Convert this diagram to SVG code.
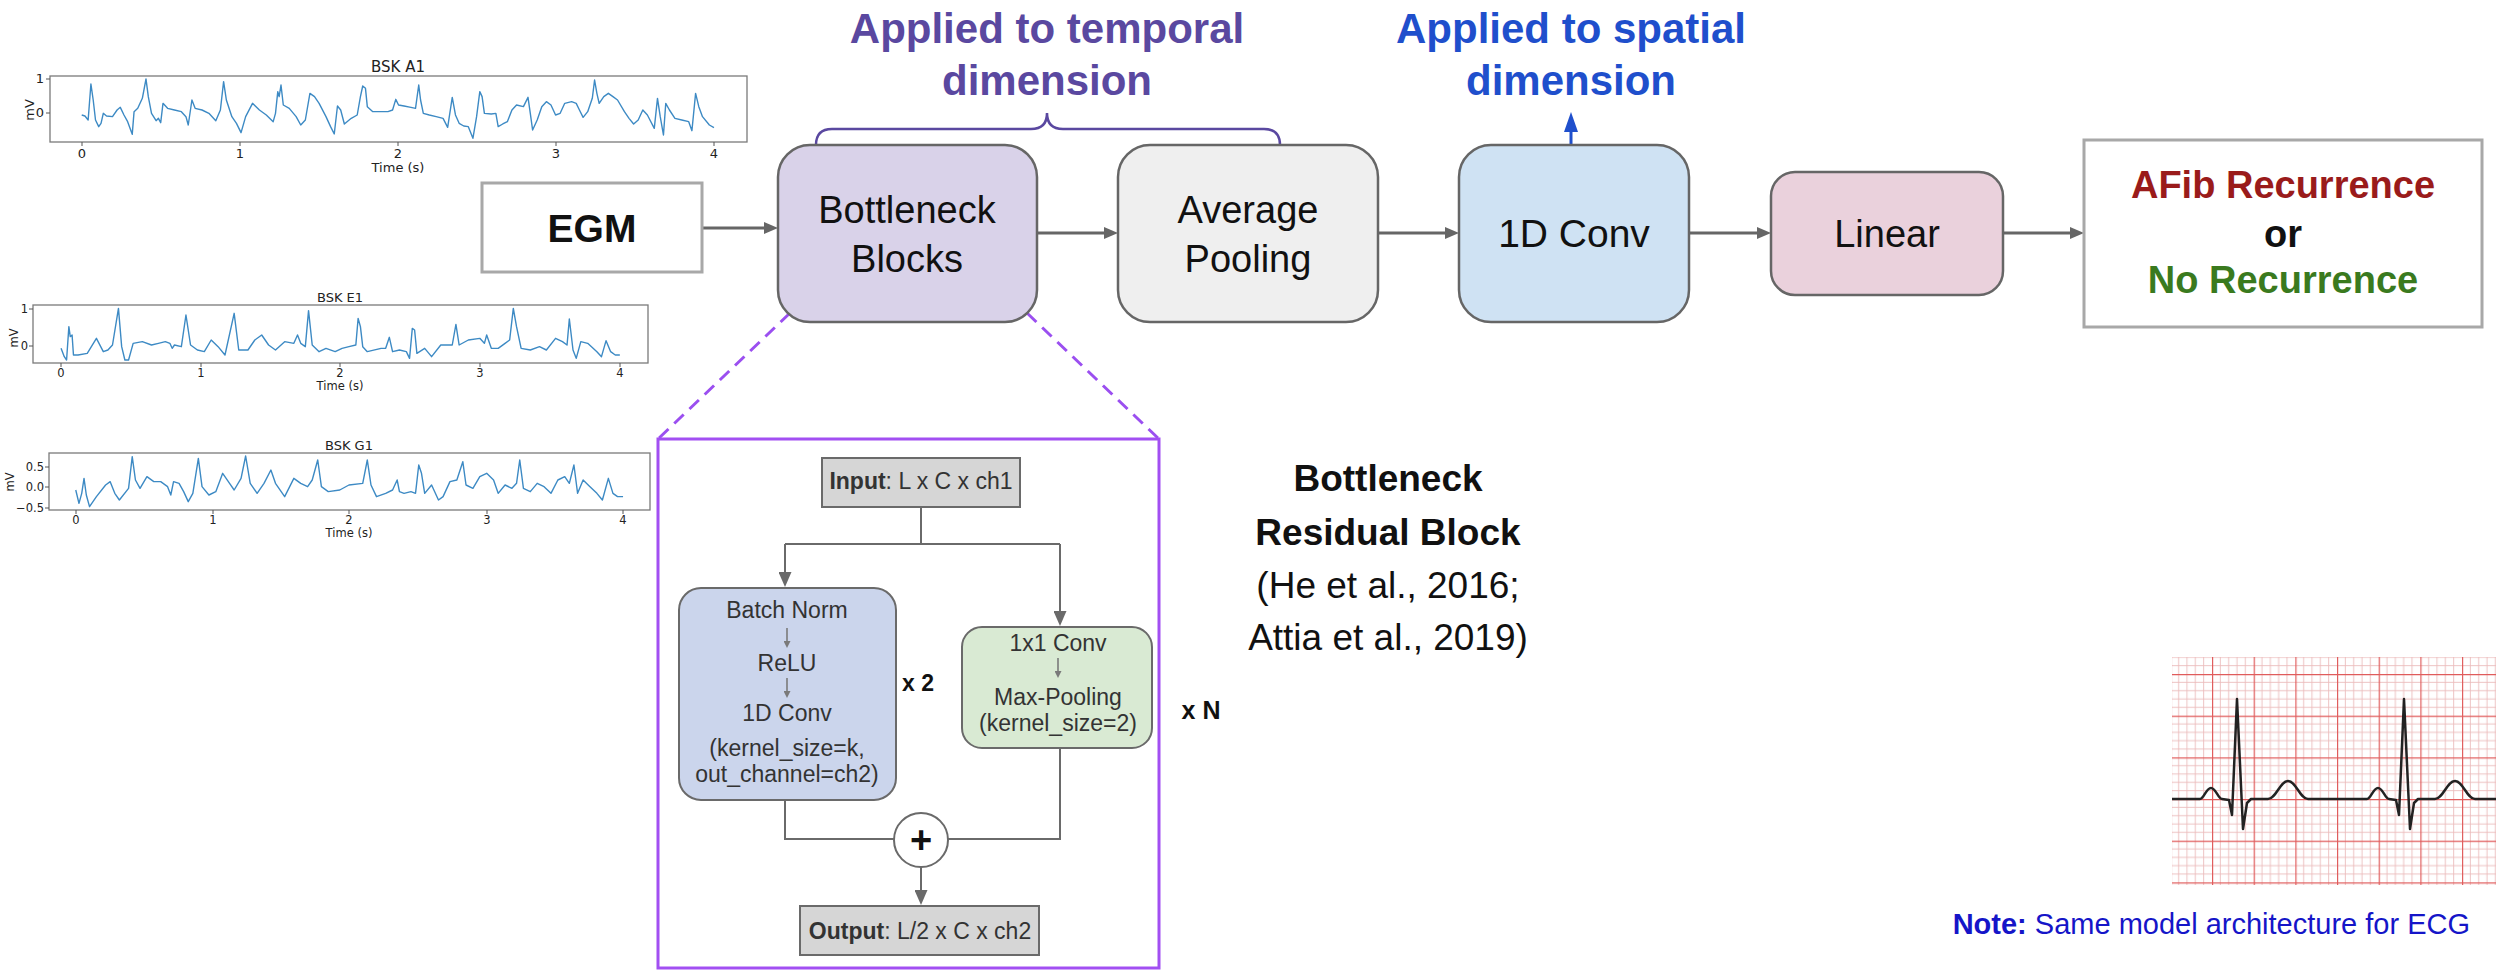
<svg xmlns="http://www.w3.org/2000/svg" width="2496" height="970" viewBox="0 0 2496 970">
<style>
  .sans{font-family:"Liberation Sans",Arial,Helvetica,sans-serif}
  .pt{font-family:"DejaVu Sans",Verdana,sans-serif;fill:#222;text-anchor:middle}
  .axf{fill:none;stroke:#7a7a7a;stroke-width:1.3}
  .tk{fill:none;stroke:#555;stroke-width:1}
  .sig{fill:none;stroke:#3d8ac4;stroke-width:1.4;stroke-linejoin:round}
  .node{stroke:#666;stroke-width:2.5}
  .plain{fill:#fff;stroke:#a8a8a8;stroke-width:3}
  .lab{font-family:"Liberation Sans",Arial,Helvetica,sans-serif;fill:#111;text-anchor:middle}
  .conn{fill:none;stroke:#666;stroke-width:3}
  .iconn{fill:none;stroke:#6a6a6a;stroke-width:2}
  .tiny{fill:none;stroke:#7a7a7a;stroke-width:1.6}
  .inode{stroke:#6a6a6a;stroke-width:2}
  .itxt{font-family:"Liberation Sans",Arial,Helvetica,sans-serif;fill:#333;text-anchor:middle;font-size:23px}
</style>
<defs>
  <marker id="ah" markerUnits="userSpaceOnUse" viewBox="0 0 14 12" markerWidth="14" markerHeight="12" refX="2" refY="6" orient="auto">
    <path d="M0,0 L14,6 L0,12 z" fill="#666"/>
  </marker>
  <marker id="ahi" markerUnits="userSpaceOnUse" viewBox="0 0 15 13" markerWidth="15" markerHeight="13" refX="2" refY="6.5" orient="auto">
    <path d="M0,0 L15,6.5 L0,13 z" fill="#6a6a6a"/>
  </marker>
  <marker id="aht" markerUnits="userSpaceOnUse" viewBox="0 0 7 7" markerWidth="7" markerHeight="7" refX="1" refY="3.5" orient="auto">
    <path d="M0,0 L7,3.5 L0,7 z" fill="#7a7a7a"/>
  </marker>
  <marker id="ahb" markerUnits="userSpaceOnUse" viewBox="0 0 20 14" markerWidth="20" markerHeight="14" refX="2" refY="7" orient="auto">
    <path d="M0,0 L20,7 L0,14 z" fill="#1f4fcc"/>
  </marker>
  <pattern id="ecgGrid" patternUnits="userSpaceOnUse" x="2212" y="674" width="41.67" height="41.67">
    <path d="M8.33,0V41.67M16.67,0V41.67M25,0V41.67M33.33,0V41.67M0,8.33H41.67M0,16.67H41.67M0,25H41.67M0,33.33H41.67" stroke="#ebbcbc" stroke-width="0.9" fill="none"/>
    <path d="M0.5,0V41.67M0,0.5H41.67" stroke="#e05c5c" stroke-width="1.4" fill="none"/>
  </pattern>
</defs>
<rect x="0" y="0" width="2496" height="970" fill="#fff"/>

<!-- EGM signal plots -->
<g id="plot-a1">
  <text class="pt" x="398" y="72" font-size="15">BSK A1</text>
  <polyline class="sig" vector-effect="non-scaling-stroke" transform="matrix(0.45914 0 0 0.33333 0 0)" points="178,345 185,348 192,360 198,252 203,300 208,360 215,380 220,370 225,340 232,348 245,350 255,330 262,322 270,345 278,365 288,403 292,335 300,325 310,295 318,237 323,290 330,340 340,362 345,355 350,368 355,310 365,325 380,330 395,335 405,350 410,375 418,300 425,325 440,330 455,340 470,362 480,330 487,245 493,300 505,350 515,370 525,398 535,350 550,310 565,330 580,345 595,365 600,340 605,275 608,290 612,255 617,315 630,325 645,350 655,375 665,360 675,280 685,290 695,310 710,350 720,380 728,402 735,318 742,330 750,372 765,355 778,345 785,290 790,258 796,265 800,320 812,335 830,335 845,335 855,330 862,298 868,315 880,318 895,322 905,325 912,255 916,300 922,340 935,345 950,350 965,355 975,382 985,292 992,345 1000,370 1010,378 1020,380 1030,415 1038,350 1045,275 1050,290 1055,340 1070,342 1080,340 1085,380 1095,372 1105,365 1115,330 1125,315 1140,320 1150,292 1155,340 1160,390 1170,360 1180,320 1190,305 1200,315 1210,345 1220,340 1230,310 1245,305 1255,310 1262,330 1270,352 1280,335 1290,295 1295,240 1300,280 1305,310 1315,290 1325,280 1335,290 1345,300 1360,335 1370,355 1380,372 1390,360 1400,330 1410,345 1425,385 1432,295 1438,350 1445,405 1450,310 1458,330 1470,355 1485,360 1500,365 1507,392 1515,280 1522,320 1530,350 1545,375 1555,383"/>
  <rect class="axf" x="50" y="76" width="697" height="66"/>
  <path class="tk" d="M82,142v4M240,142v4M398,142v4M556,142v4M714,142v4M50,79h-4M50,113h-4"/>
  <g class="pt" font-size="13">
    <text x="82" y="158">0</text><text x="240" y="158">1</text><text x="398" y="158">2</text><text x="556" y="158">3</text><text x="714" y="158">4</text>
    <text x="398" y="172">Time (s)</text>
    <text x="44" y="83" text-anchor="end">1</text><text x="44" y="117" text-anchor="end">0</text>
    <text transform="translate(34,110) rotate(-90)">mV</text>
  </g>
</g>

<g id="plot-e1">
  <text class="pt" x="340" y="302" font-size="13">BSK E1</text>
  <polyline class="sig" vector-effect="non-scaling-stroke" transform="matrix(0.45914 0 0 0.33333 0 280)" points="133,205 140,230 145,240 150,140 153,170 157,165 160,225 170,225 190,220 210,175 225,215 235,210 245,195 258,85 265,200 272,240 280,240 290,190 310,185 330,195 345,190 360,185 370,190 375,205 380,195 395,200 405,105 415,195 430,210 445,215 460,180 475,200 490,225 510,100 520,210 540,210 555,180 570,165 585,195 600,210 620,185 640,190 648,165 655,190 665,200 672,92 680,195 695,215 710,205 730,215 745,205 760,200 775,195 780,115 785,140 790,200 800,215 830,205 840,205 848,172 855,215 870,210 885,215 892,235 898,145 903,150 908,220 925,205 940,230 960,195 985,195 993,133 1000,195 1020,180 1045,175 1055,190 1060,165 1070,205 1085,205 1100,190 1110,180 1118,85 1125,140 1135,205 1155,210 1175,200 1190,210 1210,175 1225,185 1235,195 1240,117 1248,210 1255,235 1265,185 1280,190 1300,215 1310,230 1320,182 1330,215 1340,225 1350,225"/>
  <rect class="axf" x="33" y="305" width="615" height="58"/>
  <path class="tk" d="M61,363v4M201,363v4M340,363v4M480,363v4M620,363v4M33,309h-4M33,346h-4"/>
  <g class="pt" font-size="11.5">
    <text x="61" y="377">0</text><text x="201" y="377">1</text><text x="340" y="377">2</text><text x="480" y="377">3</text><text x="620" y="377">4</text>
    <text x="340" y="390">Time (s)</text>
    <text x="28" y="313" text-anchor="end">1</text><text x="28" y="350" text-anchor="end">0</text>
    <text transform="translate(18,338) rotate(-90)">mV</text>
  </g>
</g>

<g id="plot-g1">
  <text class="pt" x="349" y="450" font-size="13">BSK G1</text>
  <polyline class="sig" vector-effect="non-scaling-stroke" transform="matrix(0.45914 0 0 0.33333 0 280)" points="165,630 172,670 178,640 183,595 188,645 195,680 210,650 230,615 240,605 250,640 260,660 280,625 288,530 295,600 305,625 320,590 335,605 350,605 365,620 372,645 378,605 390,610 400,635 410,665 420,640 432,535 440,620 455,645 470,635 485,580 500,610 510,630 525,595 535,528 545,610 560,640 575,610 590,570 600,610 620,650 640,595 655,610 670,620 680,600 692,540 700,620 715,635 740,630 760,615 790,610 800,540 808,615 820,650 840,640 855,630 865,600 870,635 880,640 895,635 905,640 912,555 918,580 925,640 940,615 955,660 965,650 980,605 995,600 1008,545 1015,615 1030,625 1045,590 1060,580 1075,600 1085,640 1100,615 1115,625 1125,610 1132,540 1140,625 1155,635 1170,610 1185,620 1200,640 1215,600 1230,590 1240,610 1250,555 1258,640 1270,600 1285,620 1300,640 1312,660 1325,595 1335,640 1345,650 1357,650"/>
  <rect class="axf" x="49" y="453" width="601" height="57"/>
  <path class="tk" d="M76,510v4M213,510v4M349,510v4M487,510v4M623,510v4M49,467h-4M49,487h-4M49,508h-4"/>
  <g class="pt" font-size="11.5">
    <text x="76" y="524">0</text><text x="213" y="524">1</text><text x="349" y="524">2</text><text x="487" y="524">3</text><text x="623" y="524">4</text>
    <text x="349" y="537">Time (s)</text>
    <text x="44" y="471" text-anchor="end">0.5</text><text x="44" y="491" text-anchor="end">0.0</text><text x="44" y="512" text-anchor="end">−0.5</text>
    <text transform="translate(14,482) rotate(-90)">mV</text>
  </g>
</g>

<!-- annotations -->
<g id="note-temporal">
  <text class="sans" x="1047" y="43" font-size="42" font-weight="bold" fill="#5a48a0" text-anchor="middle">Applied to temporal</text>
  <text class="sans" x="1047" y="95" font-size="42" font-weight="bold" fill="#5a48a0" text-anchor="middle">dimension</text>
  <path d="M816,145 Q816,129 832,129 L1031,129 Q1047,129 1047,113 Q1047,129 1063,129 L1264,129 Q1280,129 1280,145" fill="none" stroke="#5a48a0" stroke-width="2.5"/>
</g>
<g id="note-spatial">
  <text class="sans" x="1571" y="43" font-size="42" font-weight="bold" fill="#1f4fcc" text-anchor="middle">Applied to spatial</text>
  <text class="sans" x="1571" y="95" font-size="42" font-weight="bold" fill="#1f4fcc" text-anchor="middle">dimension</text>
</g>

<!-- connectors -->
<g id="connectors">
  <path class="conn" d="M702,228 H766" marker-end="url(#ah)"/>
  <path class="conn" d="M1037,233 H1106" marker-end="url(#ah)"/>
  <path class="conn" d="M1378,233 H1447" marker-end="url(#ah)"/>
  <path class="conn" d="M1689,233 H1759" marker-end="url(#ah)"/>
  <path class="conn" d="M2003,233 H2072" marker-end="url(#ah)"/>
  <path d="M1571,146 V130" fill="none" stroke="#1f4fcc" stroke-width="3" marker-end="url(#ahb)"/>
  <path d="M790,313 L658,439 M1027,313 L1159,439" fill="none" stroke="#9b4ff0" stroke-width="3" stroke-dasharray="13 8"/>
</g>

<!-- main pipeline nodes -->
<g id="node-egm">
  <rect class="plain" x="482" y="183" width="220" height="89"/>
  <text class="lab" x="592" y="242" font-size="39" font-weight="bold">EGM</text>
</g>
<g id="node-bottleneck">
  <rect class="node" x="778" y="145" width="259" height="177" rx="32" fill="#d9d2e9"/>
  <text class="lab" x="907" y="223" font-size="38">Bottleneck</text>
  <text class="lab" x="907" y="272" font-size="38">Blocks</text>
</g>
<g id="node-avgpool">
  <rect class="node" x="1118" y="145" width="260" height="177" rx="32" fill="#efefef"/>
  <text class="lab" x="1248" y="223" font-size="38">Average</text>
  <text class="lab" x="1248" y="272" font-size="38">Pooling</text>
</g>
<g id="node-conv">
  <rect class="node" x="1459" y="145" width="230" height="177" rx="32" fill="#cfe2f3"/>
  <text class="lab" x="1574" y="247" font-size="39">1D Conv</text>
</g>
<g id="node-linear">
  <rect class="node" x="1771" y="172" width="232" height="123" rx="24" fill="#ead1dc"/>
  <text class="lab" x="1887" y="247" font-size="38">Linear</text>
</g>
<g id="node-output">
  <rect class="plain" x="2084" y="140" width="398" height="187"/>
  <text class="lab" x="2283" y="198" font-size="38" font-weight="bold" style="fill:#9a1b1b">AFib Recurrence</text>
  <text class="lab" x="2283" y="247" font-size="38" font-weight="bold" style="fill:#111">or</text>
  <text class="lab" x="2283" y="293" font-size="38" font-weight="bold" style="fill:#3a7a1e">No Recurrence</text>
</g>

<!-- expanded bottleneck residual block -->
<g id="block-detail">
  <rect x="658" y="439" width="501" height="529" fill="none" stroke="#a24ff2" stroke-width="3"/>
  <g id="block-connectors">
    <path class="iconn" d="M921,507 V544 M785,544 H1060"/>
    <path class="iconn" d="M785,544 V574" marker-end="url(#ahi)"/>
    <path class="iconn" d="M1060,544 V613" marker-end="url(#ahi)"/>
    <path class="iconn" d="M785,800 V839 H894 M1060,748 V839 H948"/>
    <path class="iconn" d="M921,867 V892" marker-end="url(#ahi)"/>
  </g>
  <g id="b-input">
    <rect class="inode" x="822" y="458" width="198" height="49" fill="#d6d6d6"/>
    <text class="itxt" x="921" y="489"><tspan font-weight="bold">Input</tspan>: L x C x ch1</text>
  </g>
  <g id="b-main">
    <rect class="inode" x="679" y="588" width="217" height="212" rx="22" fill="#cbd5ec"/>
    <text class="itxt" x="787" y="618">Batch Norm</text>
    <text class="itxt" x="787" y="671">ReLU</text>
    <text class="itxt" x="787" y="721">1D Conv</text>
    <text class="itxt" x="787" y="756">(kernel_size=k,</text>
    <text class="itxt" x="787" y="782">out_channel=ch2)</text>
    <path class="tiny" d="M787,628 V642" marker-end="url(#aht)"/>
    <path class="tiny" d="M787,678 V692" marker-end="url(#aht)"/>
  </g>
  <text class="itxt" x="918" y="691" style="font-weight:bold;fill:#111">x 2</text>
  <g id="b-shortcut">
    <rect class="inode" x="962" y="627" width="190" height="121" rx="20" fill="#d9ead3"/>
    <text class="itxt" x="1058" y="651">1x1 Conv</text>
    <text class="itxt" x="1058" y="705">Max-Pooling</text>
    <text class="itxt" x="1058" y="731">(kernel_size=2)</text>
    <path class="tiny" d="M1058,658 V672" marker-end="url(#aht)"/>
  </g>
  <g id="b-add">
    <circle cx="921" cy="840" r="27" fill="#fff" stroke="#6a6a6a" stroke-width="2"/>
    <text class="itxt" x="921" y="853" style="font-size:38px;font-weight:bold;fill:#111">+</text>
  </g>
  <g id="b-output">
    <rect class="inode" x="800" y="906" width="239" height="49" fill="#d6d6d6"/>
    <text class="itxt" x="920" y="939"><tspan font-weight="bold">Output</tspan>: L/2 x C x ch2</text>
  </g>
</g>
<text id="repeat-n" class="sans" x="1201" y="719" font-size="25" font-weight="bold" fill="#111" text-anchor="middle">x N</text>

<g id="citation" class="lab" font-size="37">
  <text x="1388" y="491" font-weight="bold">Bottleneck</text>
  <text x="1388" y="545" font-weight="bold">Residual Block</text>
  <text x="1388" y="598">(He et al., 2016;</text>
  <text x="1388" y="650">Attia et al., 2019)</text>
</g>

<!-- ECG illustration -->
<g id="ecg">
  <rect x="2172" y="657" width="324" height="228" fill="#fff"/>
  <rect x="2172" y="657" width="324" height="228" fill="url(#ecgGrid)"/>
  <path d="M2172,799 L2200,799 C2204,799 2206,788 2211,788 C2216,788 2218,799 2222,799 L2229,800 L2232,815 L2237,699 L2243,829 L2247,803 L2251,799 L2268,799 C2276,799 2280,781 2288,781 C2296,781 2300,799 2308,799 L2367,799 C2371,799 2373,788 2378,788 C2383,788 2385,799 2389,799 L2396,800 L2399,815 L2404,699 L2410,829 L2414,803 L2418,799 L2435,799 C2443,799 2447,781 2455,781 C2463,781 2467,799 2475,799 L2496,799" fill="none" stroke="#222" stroke-width="2.5" stroke-linejoin="round"/>
</g>
<text id="note" class="sans" x="2470" y="934" font-size="29" fill="#1515c8" text-anchor="end"><tspan font-weight="bold">Note:</tspan> Same model architecture for ECG</text>
</svg>
